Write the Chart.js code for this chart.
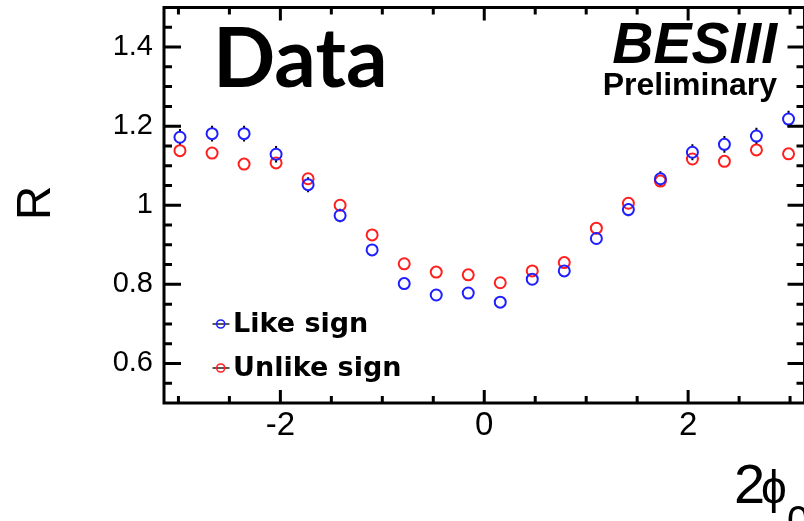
<!DOCTYPE html>
<html>
<head>
<meta charset="utf-8">
<script src="https://cdn.jsdelivr.net/npm/chart.js@4/dist/chart.umd.min.js"></script>
<style>
  html, body { margin: 0; padding: 0; background: #fff; overflow: hidden; }
  canvas { display: block; }
</style>
</head>
<body>
<canvas id="ratioChart" width="812" height="521"></canvas>
<script>
// 2phi0 bin centres (20 bins over -pi..pi)
const binCenters = [-2.985, -2.670, -2.356, -2.042, -1.728, -1.414, -1.100, -0.785, -0.471, -0.157,
                    0.157, 0.471, 0.785, 1.100, 1.414, 1.728, 2.042, 2.356, 2.670, 2.985]

const likeSign = [1.172, 1.181, 1.181, 1.129, 1.052, 0.974, 0.887, 0.802, 0.773, 0.778,
                  0.755, 0.813, 0.834, 0.916, 0.989, 1.067, 1.134, 1.154, 1.175, 1.218]
const likeSignErr = [0.021, 0.020, 0.020, 0.021, 0.019, 0.017, 0.015, 0.014, 0.013, 0.013,
                     0.013, 0.013, 0.014, 0.015, 0.017, 0.019, 0.020, 0.021, 0.021, 0.021]

const unlikeSign = [1.138, 1.132, 1.104, 1.107, 1.067, 1.000, 0.925, 0.852, 0.831, 0.824,
                    0.804, 0.834, 0.855, 0.942, 1.005, 1.061, 1.117, 1.111, 1.140, 1.130]
const unlikeSignErr = [0.012, 0.012, 0.012, 0.012, 0.011, 0.011, 0.010, 0.010, 0.010, 0.010,
                       0.010, 0.010, 0.010, 0.011, 0.011, 0.012, 0.013, 0.013, 0.014, 0.013]

const xTickLabels = [-2, 0, 2]
const yTickLabels = [0.6, 0.8, 1, 1.2, 1.4]

const BLUE = "#1f1fff"
const RED = "#ff1f1f"
const LABEL_FONT = '"Liberation Sans", Arial, Helvetica, sans-serif'
const MARKER_R = 5.5

function points(ys) {
  return binCenters.map((x, i) => ({ x: x, y: ys[i] }))
}

// frame, inward ticks, error bars, legend and annotations
const rootStyle = {
  id: "rootStyle",
  beforeDatasetsDraw(chart) {
    const ctx = chart.ctx
    const ys = chart.scales.y
    ctx.save()
    ctx.strokeStyle = "#000"
    ctx.lineWidth = 2
    chart.data.datasets.forEach((ds, di) => {
      const meta = chart.getDatasetMeta(di)
      meta.data.forEach((pt, i) => {
        const top = ys.getPixelForValue(ds.data[i].y + ds.errors[i])
        const bot = ys.getPixelForValue(ds.data[i].y - ds.errors[i])
        const r = MARKER_R
        ctx.beginPath()
        if (pt.y - r > top) { ctx.moveTo(pt.x, top); ctx.lineTo(pt.x, pt.y - r) }
        if (pt.y + r < bot) { ctx.moveTo(pt.x, pt.y + r); ctx.lineTo(pt.x, bot) }
        ctx.stroke()
      })
    })
    ctx.restore()
  },
  afterDraw(chart) {
    const ctx = chart.ctx
    const a = chart.chartArea
    const xs = chart.scales.x
    const ys = chart.scales.y
    ctx.save()
    ctx.strokeStyle = "#000"
    ctx.lineWidth = 3
    ctx.strokeRect(a.left, a.top, a.right - a.left, a.bottom - a.top)

    // x ticks every 0.5, long at labelled values
    ctx.beginPath()
    for (let k = -6; k <= 6; k++) {
      const v = k * 0.5
      const px = xs.getPixelForValue(v)
      const len = xTickLabels.includes(v) ? 13 : 7
      ctx.moveTo(px, a.bottom); ctx.lineTo(px, a.bottom - len)
      ctx.moveTo(px, a.top); ctx.lineTo(px, a.top + len)
    }
    // y ticks every 0.05, long at labelled values
    for (let k = 11; k <= 29; k++) {
      const v = k * 0.05
      const py = ys.getPixelForValue(v)
      const len = k % 4 === 0 ? 17 : 8
      ctx.moveTo(a.left, py); ctx.lineTo(a.left + len, py)
      ctx.moveTo(a.right, py); ctx.lineTo(a.right - len, py)
    }
    ctx.stroke()

    // legend
    const rows = [[324, 332], [368, 376]]
    chart.data.datasets.forEach((ds, di) => {
      const [cy, base] = rows[di]
      ctx.lineWidth = 1.5
      ctx.strokeStyle = "#222"
      ctx.beginPath(); ctx.moveTo(212.5, cy); ctx.lineTo(229.5, cy); ctx.stroke()
      ctx.strokeStyle = ds.borderColor
      ctx.lineWidth = 1.6
      ctx.beginPath(); ctx.arc(220.7, cy, 4, 0, Math.PI * 2); ctx.stroke()
      ctx.fillStyle = "#000"
      ctx.font = 'bold 27px "DejaVu Sans", sans-serif'
      ctx.textAlign = "left"
      ctx.textBaseline = "alphabetic"
      ctx.fillText(ds.label, 233, base)
    })

    // labels
    ctx.fillStyle = "#000"
    ctx.textBaseline = "alphabetic"
    ctx.font = 'bold 82px Lato, "Open Sans", sans-serif'
    ctx.textAlign = "left"
    ctx.fillText("Data", 213, 87)

    ctx.textAlign = "right"
    ctx.font = "italic bold 57px " + LABEL_FONT
    ctx.fillText("BESIII", 777, 63)
    ctx.font = "bold 32px " + LABEL_FONT
    ctx.fillText("Preliminary", 777, 95)

    // axis titles
    ctx.textAlign = "left"
    ctx.font = "56px " + LABEL_FONT
    ctx.fillText("2", 734, 503)
    ctx.textAlign = "center"
    ctx.font = "46px " + LABEL_FONT
    ctx.fillText("\u03d5", 774, 503)
    ctx.textAlign = "left"
    ctx.font = "40px " + LABEL_FONT
    ctx.fillText("0", 787, 534)

    ctx.translate(50, 203)
    ctx.rotate(-Math.PI / 2)
    ctx.textAlign = "center"
    ctx.font = "48px " + LABEL_FONT
    ctx.fillText("R", 0, 0)
    ctx.restore()
  }
}

document.addEventListener("DOMContentLoaded", () => {
  const ctx = document.getElementById("ratioChart")

  new Chart(ctx, {
    type: "scatter",
    data: {
      datasets: [
        {
          label: "Like sign",
          data: points(likeSign),
          errors: likeSignErr,
          borderColor: BLUE,
          backgroundColor: "transparent",
          pointRadius: MARKER_R,
          pointBorderWidth: 2,
        },
        {
          label: "Unlike sign",
          data: points(unlikeSign),
          errors: unlikeSignErr,
          borderColor: RED,
          backgroundColor: "transparent",
          pointRadius: MARKER_R,
          pointBorderWidth: 2,
        },
      ],
    },
    options: {
      responsive: false,
      animation: false,
      events: [],
      layout: { padding: { top: 5, right: 6.4, left: 0, bottom: 0 } },
      plugins: { legend: { display: false }, tooltip: { enabled: false } },
      scales: {
        x: {
          type: "linear",
          min: -Math.PI,
          max: Math.PI,
          afterBuildTicks: (scale) => { scale.ticks = xTickLabels.map((v) => ({ value: v })) },
          afterFit: (scale) => {
            scale.height = 118
            scale.paddingLeft = 0
            scale.paddingRight = 0
          },
          grid: { display: false, drawTicks: false },
          border: { display: false },
          ticks: {
            padding: 3,
            color: "#000",
            maxRotation: 0,
            font: { family: LABEL_FONT, size: 33 },
            callback: (v) => String(v),
          },
        },
        y: {
          min: 0.5,
          max: 1.5,
          afterBuildTicks: (scale) => { scale.ticks = yTickLabels.map((v) => ({ value: v })) },
          afterFit: (scale) => {
            scale.width = 164
            scale.paddingTop = 0
            scale.paddingBottom = 0
          },
          grid: { display: false, drawTicks: false },
          border: { display: false },
          ticks: {
            padding: 11,
            color: "#000",
            font: { family: LABEL_FONT, size: 29 },
            callback: (v) => String(v),
          },
        },
      },
    },
    plugins: [rootStyle],
  })
})
</script>
</body>
</html>
